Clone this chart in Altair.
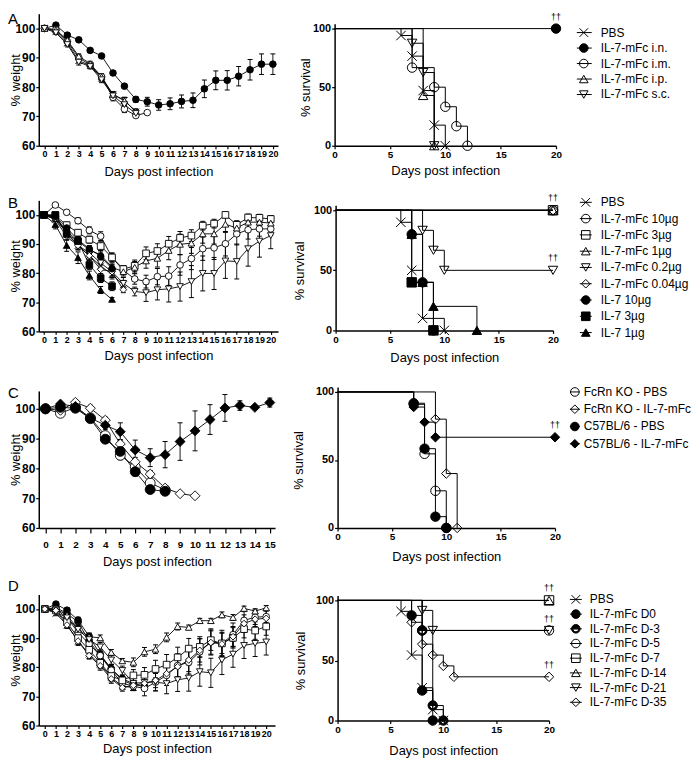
import altair as alt
import pandas as pd

FONT = "Liberation Sans"

# ======================= Panel A =======================
A_NAMES = ["PBS", "IL-7-mFc i.n.", "IL-7-mFc i.m.", "IL-7-mFc i.p.", "IL-7-mFc s.c."]
A_STYLES = ["x", "fcircle", "ocircle", "otriup", "otridown"]
A_WEIGHT = {
    "PBS": [100, 99.0, 95.0, 89.0, 87.3, 83.0, 77.5, 75.5, 71.5],
    "IL-7-mFc i.n.": [100, 101.1, 97.7, 96.1, 92.5, 90.6, 84.8, 80.3, 75.8, 75.0, 73.9,
                      74.3, 75.1, 75.5, 79.4, 82.3, 82.3, 83.7, 85.9, 87.8, 87.8],
    "IL-7-mFc i.m.": [100, 99.5, 95.5, 90.0, 87.5, 83.5, 76.5, 72.5, 70.3, 71.3],
    "IL-7-mFc i.p.": [100, 99.5, 96.0, 90.5, 88.0, 83.5, 77.5, 75.3, 71.8],
    "IL-7-mFc s.c.": [100, 98.5, 94.5, 88.5, 87.0, 82.5, 77.0, 74.0, 71.0],
}
A_SEM = {
    "PBS": [0, 0.5, 0.8, 0.8, 0.8, 1.0, 1.0, 1.0, 0.8],
    "IL-7-mFc i.n.": [0, 0.4, 0.5, 0.5, 0.5, 0.6, 0.6, 0.8, 1.0, 1.5, 1.8,
                      2.0, 2.2, 2.5, 3.0, 3.2, 3.3, 3.3, 3.5, 3.5, 3.5],
    "IL-7-mFc i.m.": [0, 0.5, 0.8, 1.0, 0.8, 1.0, 1.2, 1.2, 0.6, 0.5],
    "IL-7-mFc i.p.": [0, 0.5, 0.8, 0.8, 0.8, 1.0, 1.0, 1.2, 0.8],
    "IL-7-mFc s.c.": [0, 0.6, 0.8, 1.0, 0.8, 1.0, 1.0, 1.2, 0.8],
}
A_SURV_DAYS = {
    "PBS": [0, 6, 7, 8, 9, 10],
    "IL-7-mFc i.n.": [0, 20],
    "IL-7-mFc i.m.": [0, 7, 9, 10, 11, 12],
    "IL-7-mFc i.p.": [0, 8, 9],
    "IL-7-mFc s.c.": [0, 7, 8, 9],
}
A_SURV_PCT = {
    "PBS": [100, 94.1, 76.5, 47.1, 17.6, 0],
    "IL-7-mFc i.n.": [100, 100],
    "IL-7-mFc i.m.": [100, 66.7, 50, 33.3, 16.7, 0],
    "IL-7-mFc i.p.": [100, 42.9, 0],
    "IL-7-mFc s.c.": [100, 87.5, 62.5, 0],
}
A_DAG_DAYS = [20]
A_DAG_PCT = [100]

# ======================= Panel B =======================
B_NAMES = ["PBS", "IL-7-mFc 10µg", "IL-7-mFc 3µg", "IL-7-mFc 1µg", "IL-7-mFc 0.2µg",
           "IL-7-mFc 0.04µg", "IL-7 10µg", "IL-7 3µg", "IL-7 1µg"]
B_STYLES = ["x", "ocircle", "osquare", "otriup", "otridown", "odiamond",
            "fcircle", "fsquare", "ftriup"]
B_WEIGHT = {
    "PBS": [100, 98.5, 94.0, 89.5, 86.0, 82.5, 79.5, 76.0],
    "IL-7-mFc 10µg": [100, 103.4, 100.9, 98.0, 94.7, 92.7, 85.4, 81.0, 78.0, 77.1, 78.8,
                      79.0, 82.8, 85.0, 88.4, 88.7, 90.1, 93.5, 94.9, 95.2, 95.2],
    "IL-7-mFc 3µg": [100, 99.8, 96.5, 93.9, 91.5, 89.3, 85.4, 81.4, 82.5, 86.8, 87.6,
                     90.1, 92.1, 92.9, 96.3, 97.0, 100.0, 96.6, 99.1, 99.0, 98.6],
    "IL-7-mFc 1µg": [100, 99.0, 94.5, 91.0, 88.0, 86.3, 82.0, 80.5, 82.0, 84.2, 85.1,
                     87.8, 89.9, 90.3, 93.5, 93.5, 96.8, 95.5, 97.5, 97.5, 97.2],
    "IL-7-mFc 0.2µg": [100, 98.5, 92.5, 89.5, 87.0, 83.5, 80.5, 76.5, 73.7, 73.3, 74.3,
                       74.6, 75.4, 77.1, 79.9, 79.9, 84.2, 84.0, 88.4, 91.0, 92.9],
    "IL-7-mFc 0.04µg": [100, 99.5, 93.5, 89.5, 86.0, 81.3, 80.5, 74.3],
    "IL-7 10µg": [100, 99.5, 95.5, 91.5, 88.3, 85.8, 81.5],
    "IL-7 3µg": [100, 100.0, 93.5, 91.0, 82.8, 78.3, 75.5],
    "IL-7 1µg": [100, 96.7, 89.5, 85.3, 79.2, 74.2, 71.0],
}
B_SEM = {
    "PBS": [0, 0.8, 1.5, 1.5, 1.5, 1.5, 1.5, 1.5],
    "IL-7-mFc 10µg": [0, 0.5, 0.8, 1.0, 1.2, 1.5, 1.5, 1.5, 1.8, 2.2, 2.8,
                      3.2, 3.5, 3.8, 4.0, 4.0, 4.2, 3.8, 3.2, 2.5, 2.2],
    "IL-7-mFc 3µg": [0, 0.5, 1.0, 1.0, 1.2, 1.5, 1.5, 1.2, 2.0, 2.2, 2.5,
                     2.5, 2.2, 2.0, 1.5, 1.5, 1.0, 1.2, 1.2, 1.2, 1.2],
    "IL-7-mFc 1µg": [0, 0.5, 1.0, 1.2, 1.2, 1.5, 1.5, 1.5, 2.0, 2.5, 3.0,
                     3.2, 3.5, 3.5, 3.2, 3.5, 2.8, 2.5, 2.0, 2.0, 2.0],
    "IL-7-mFc 0.2µg": [0, 0.6, 1.2, 1.5, 1.5, 1.8, 2.0, 2.0, 1.5, 3.0, 3.5,
                       4.5, 5.0, 5.5, 6.0, 5.5, 6.0, 6.0, 6.0, 5.5, 4.5],
    "IL-7-mFc 0.04µg": [0, 0.5, 1.0, 1.2, 1.2, 1.5, 1.5, 1.0],
    "IL-7 10µg": [0, 0.5, 1.0, 1.2, 1.2, 1.5, 1.5],
    "IL-7 3µg": [0, 0.5, 1.2, 1.5, 1.5, 1.5, 1.5],
    "IL-7 1µg": [0, 1.5, 2.0, 2.0, 1.5, 1.2, 0.6],
}
B_SURV_DAYS = {
    "PBS": [0, 6, 7, 8, 10],
    "IL-7-mFc 10µg": [0, 20],
    "IL-7-mFc 3µg": [0, 20],
    "IL-7-mFc 1µg": [0, 20],
    "IL-7-mFc 0.2µg": [0, 8, 9, 10, 20],
    "IL-7-mFc 0.04µg": [0, 20],
    "IL-7 10µg": [0, 7, 8, 9],
    "IL-7 3µg": [0, 7, 9],
    "IL-7 1µg": [0, 7, 8, 9, 13],
}
B_SURV_PCT = {
    "PBS": [100, 90, 50, 10, 0],
    "IL-7-mFc 10µg": [100, 100],
    "IL-7-mFc 3µg": [100, 100],
    "IL-7-mFc 1µg": [100, 100],
    "IL-7-mFc 0.2µg": [100, 83.3, 66.7, 50, 50],
    "IL-7-mFc 0.04µg": [100, 100],
    "IL-7 10µg": [100, 80, 40, 0],
    "IL-7 3µg": [100, 40, 0],
    "IL-7 1µg": [100, 80, 40, 20, 0],
}
B_DAG_DAYS = [20, 20]
B_DAG_PCT = [100, 50]

# ======================= Panel C =======================
C_NAMES = ["FcRn KO - PBS", "FcRn KO - IL-7-mFc", "C57BL/6 - PBS", "C57BL/6 - IL-7-mFc"]
C_STYLES = ["ocircle", "odiamond", "fcircle", "fdiamond"]
C_WEIGHT = {
    "FcRn KO - PBS": [100, 98.5, 100.5, 97.0, 91.0, 84.4, 80.5, 75.1, 72.8],
    "FcRn KO - IL-7-mFc": [100, 99.5, 102.2, 100.2, 96.2, 88.2, 82.2, 78.1, 73.4, 71.5, 70.8],
    "C57BL/6 - PBS": [100, 100.5, 100.2, 96.7, 89.8, 85.7, 78.9, 72.9, 72.3],
    "C57BL/6 - IL-7-mFc": [100, 101.6, 100.8, 96.9, 94.5, 92.3, 86.2, 83.6, 84.6, 89.0,
                           92.6, 96.4, 100.3, 101.1, 100.5, 102.1],
}
C_SEM = {
    "FcRn KO - PBS": [0, 0.8, 0.8, 1.0, 1.2, 1.5, 1.5, 1.2, 0.8],
    "FcRn KO - IL-7-mFc": [0, 0.5, 0.8, 1.0, 1.0, 1.5, 1.5, 1.2, 0.8, 0.5, 0.5],
    "C57BL/6 - PBS": [0, 0.6, 0.8, 1.2, 1.2, 1.5, 1.5, 1.0, 0.8],
    "C57BL/6 - IL-7-mFc": [0, 0.6, 0.8, 1.5, 1.5, 3.0, 3.3, 3.0, 4.4, 6.3,
                           6.7, 5.0, 4.5, 1.6, 0.5, 1.5],
}
C_SURV_DAYS = {
    "FcRn KO - PBS": [0, 7, 8, 9, 10],
    "FcRn KO - IL-7-mFc": [0, 9, 10, 11],
    "C57BL/6 - PBS": [0, 7, 8, 9, 10],
    "C57BL/6 - IL-7-mFc": [0, 7, 8, 9, 20],
}
C_SURV_PCT = {
    "FcRn KO - PBS": [100, 90.9, 54.5, 27.3, 0],
    "FcRn KO - IL-7-mFc": [100, 80, 40, 0],
    "C57BL/6 - PBS": [100, 91.7, 58.3, 8.3, 0],
    "C57BL/6 - IL-7-mFc": [100, 88.9, 77.8, 66.7, 66.7],
}
C_DAG_DAYS = [20]
C_DAG_PCT = [66.7]

# ======================= Panel D =======================
D_NAMES = ["PBS", "IL-7-mFc D0", "IL-7-mFc D-3", "IL-7-mFc D-5", "IL-7-mFc D-7",
           "IL-7-mFc D-14", "IL-7-mFc D-21", "IL-7-mFc D-35"]
D_STYLES = ["x", "fcircle", "half", "ocircle", "osquare", "otriup", "otridown", "odiamond"]
D_WEIGHT = {
    "PBS": [100, 98.5, 94.5, 89.0, 84.5, 81.0, 76.5, 73.5, 73.0],
    "IL-7-mFc D0": [100, 101.7, 99.6, 96.2, 90.6, 84.5, 79.4, 76.0, 74.4],
    "IL-7-mFc D-3": [100, 100.5, 98.5, 95.5, 89.0, 84.0, 79.5, 75.5, 74.0, 73.5],
    "IL-7-mFc D-5": [100, 100.0, 97.0, 92.0, 88.0, 84.0, 79.0, 74.5, 73.5, 72.7, 74.9,
                     77.2, 80.6, 81.7, 85.3, 88.7, 88.2, 91.2, 96.1, 97.2, 97.4],
    "IL-7-mFc D-7": [100, 99.5, 95.5, 90.0, 86.0, 81.5, 77.0, 75.5, 77.2, 77.4, 79.4,
                     80.9, 83.4, 86.4, 87.0, 89.3, 88.2, 90.1, 93.1, 92.6, 94.0],
    "IL-7-mFc D-14": [100, 100.0, 98.0, 93.0, 90.5, 90.1, 85.1, 82.2, 81.7, 85.3, 86.2,
                      90.3, 94.0, 93.7, 96.0, 96.0, 98.0, 97.1, 100.2, 99.3, 100.4],
    "IL-7-mFc D-21": [100, 99.0, 97.0, 93.0, 89.5, 87.0, 82.5, 78.9, 74.5, 74.8, 74.9,
                      74.4, 75.7, 76.3, 78.5, 78.1, 82.5, 84.5, 87.5, 88.2, 88.7],
    "IL-7-mFc D-35": [100, 99.5, 94.5, 89.0, 84.0, 80.5, 76.0, 73.0, 73.8, 74.5, 75.5,
                      77.8, 80.2, 82.5, 85.8, 88.5, 88.0, 90.5, 95.0, 96.5, 96.8],
}
D_SEM = {
    "PBS": [0, 0.8, 1.2, 1.5, 1.5, 1.5, 1.5, 1.2, 1.0],
    "IL-7-mFc D0": [0, 0.6, 0.8, 1.0, 1.2, 1.5, 1.5, 1.2, 1.0],
    "IL-7-mFc D-3": [0, 0.6, 0.8, 1.2, 1.2, 1.5, 1.5, 1.2, 1.0, 1.0],
    "IL-7-mFc D-5": [0, 0.6, 0.8, 1.2, 1.2, 1.5, 1.5, 1.2, 1.5, 2.5, 3.0,
                     3.5, 4.0, 4.0, 4.5, 4.5, 4.5, 4.0, 3.0, 2.5, 2.0],
    "IL-7-mFc D-7": [0, 0.6, 1.0, 1.2, 1.2, 1.5, 1.5, 1.2, 2.0, 2.5, 3.0,
                     3.5, 3.5, 3.5, 3.5, 3.5, 3.5, 3.5, 3.0, 3.0, 3.0],
    "IL-7-mFc D-14": [0, 0.5, 0.8, 1.0, 1.0, 1.0, 1.0, 0.8, 1.5, 1.5, 1.5,
                      1.5, 1.2, 0.8, 0.8, 0.8, 1.0, 1.0, 0.8, 0.8, 0.8],
    "IL-7-mFc D-21": [0, 0.6, 1.0, 1.2, 1.2, 1.5, 1.5, 1.5, 2.0, 2.5, 3.0,
                      3.5, 4.0, 4.5, 5.0, 5.0, 5.0, 4.5, 4.5, 4.5, 4.5],
    "IL-7-mFc D-35": [0, 0.6, 1.0, 1.2, 1.2, 1.5, 1.5, 1.2, 1.5, 2.0, 2.5,
                      3.0, 3.5, 4.0, 4.0, 4.0, 4.0, 3.5, 3.0, 2.5, 2.5],
}
D_SURV_DAYS = {
    "PBS": [0, 6, 7, 8, 9, 10],
    "IL-7-mFc D0": [0, 7, 8, 9],
    "IL-7-mFc D-3": [0, 8, 9, 10],
    "IL-7-mFc D-5": [0, 8, 20],
    "IL-7-mFc D-7": [0, 20],
    "IL-7-mFc D-14": [0, 20],
    "IL-7-mFc D-21": [0, 8, 9, 20],
    "IL-7-mFc D-35": [0, 7, 8, 9, 10, 11, 20],
}
D_SURV_PCT = {
    "PBS": [100, 90.9, 54.5, 27.3, 9.1, 0],
    "IL-7-mFc D0": [100, 87.5, 25, 0],
    "IL-7-mFc D-3": [100, 75, 12.5, 0],
    "IL-7-mFc D-5": [100, 75, 75],
    "IL-7-mFc D-7": [100, 100],
    "IL-7-mFc D-14": [100, 100],
    "IL-7-mFc D-21": [100, 91.7, 75, 75],
    "IL-7-mFc D-35": [100, 81.8, 63.6, 54.5, 45.5, 36.4, 36.4],
}
D_DAG_DAYS = [20, 20, 20]
D_DAG_PCT = [100, 75, 36.4]

# ======================= styles =======================
HALF = "M-1,0A1,1,0,1,1,1,0A1,1,0,1,1,-1,0ZM-0.7,0A0.7,0.7,0,0,0,0.7,0Z"
SHAPES = {
    "x": "M-1,-1L1,1M-1,1L1,-1",
    "fcircle": "circle", "ocircle": "circle", "half": HALF,
    "osquare": "square", "fsquare": "square",
    "otriup": "triangle-up", "ftriup": "triangle-up",
    "otridown": "triangle-down",
    "odiamond": "diamond", "fdiamond": "diamond",
}
SOLID = {"fcircle", "fsquare", "ftriup", "fdiamond", "half"}


def shape_enc(names, styles):
    return alt.Shape("series:N", legend=None,
                     scale=alt.Scale(domain=names, range=[SHAPES[s] for s in styles]))


def fill_enc(names, styles, open_fill):
    return alt.Fill("series:N", legend=None,
                    scale=alt.Scale(domain=names,
                                    range=["black" if s in SOLID else open_fill for s in styles]))


def spacer(top):
    return alt.Chart(pd.DataFrame({"s": [0]})).mark_rule(
        color="white", opacity=0, strokeWidth=1
    ).encode(x=alt.value(0), y=alt.value(-top), y2=alt.value(0))


def weight_panel(names, styles, means, sems, xdom, ytop, xvals, w, h, letter, letter_y,
                 top, xlab, xtick, xpad, xtitle_y, msize):
    rows = []
    for n in names:
        for d, (m, e) in enumerate(zip(means[n], sems[n])):
            rows.append(dict(series=n, day=d, w=m, lo=m - e, hi=m + e, e=e))
    df = pd.DataFrame(rows)
    xsc = alt.Scale(domain=xdom, nice=False, zero=False)
    ysc = alt.Scale(domain=[60, ytop], nice=False, zero=False)
    xax = alt.Axis(values=xvals, title="Days post infection", labelFontSize=xlab,
                   tickSize=xtick, labelPadding=xpad, titleX=w / 2, titleY=xtitle_y,
                   titleFontSize=13)
    yax = alt.Axis(values=[60, 70, 80, 90, 100], title="% weight", labelFontSize=12,
                   tickSize=3, labelPadding=1, titleX=-16, titleY=h / 2, titleFontSize=13)

    def X(f):
        return alt.X(f, scale=xsc, axis=xax)

    def Y(f):
        return alt.Y(f, scale=ysc, axis=yax)

    base = alt.Chart(df)
    err = base.transform_filter("datum.e > 0")
    lines = base.mark_line(color="black", strokeWidth=0.9).encode(
        x=X("day:Q"), y=Y("w:Q"), detail="series:N")
    bars = err.mark_rule(color="black", strokeWidth=0.9).encode(
        x=X("day:Q"), y=Y("lo:Q"), y2="hi:Q")
    cap_lo = err.mark_tick(orient="horizontal", color="black", size=5, thickness=1,
                           opacity=1).encode(x=X("day:Q"), y=Y("lo:Q"))
    cap_hi = err.mark_tick(orient="horizontal", color="black", size=5, thickness=1,
                           opacity=1).encode(x=X("day:Q"), y=Y("hi:Q"))
    pts = base.mark_point(filled=True, size=msize, stroke="black", strokeWidth=0.9,
                          opacity=1).encode(
        x=X("day:Q"), y=Y("w:Q"), shape=shape_enc(names, styles),
        fill=fill_enc(names, styles, "white"))
    lab = alt.Chart(pd.DataFrame({"t": [letter]})).mark_text(
        align="left", baseline="top", fontSize=15, color="black", fill="black"
    ).encode(text="t:N", x=alt.value(-31), y=alt.value(letter_y))
    return alt.layer(lines, bars, cap_lo, cap_hi, pts, lab, spacer(top)).properties(
        width=w, height=h)


def surv_panel(names, styles, days, pcts, dag_days, dag_pcts, w, span, stub,
               ytitle_x, xtitle_y, msize):
    # stub: pixels from the plot top to the 100 % line; the axis line ends 5 px above it
    h = span + stub
    ymax = 100 + 5 * 100 / span
    rows = []
    for n in names:
        for d, p in zip(days[n], pcts[n]):
            rows.append(dict(series=n, day=d, pct=p))
    df = pd.DataFrame(rows)
    ddf = pd.DataFrame({"day": dag_days, "pct": dag_pcts})
    xsc = alt.Scale(domain=[0, 20], nice=False, zero=False)
    ysc = alt.Scale(domain=[0, ymax], nice=False, range=[h, stub - 5])
    xax = alt.Axis(values=[0, 5, 10, 15, 20], title="Days post infection", labelFontSize=10,
                   tickSize=3, labelPadding=1, titleX=w / 2, titleY=xtitle_y,
                   titleFontSize=13)
    yax = alt.Axis(values=[0, 50, 100], title="% survival", labelFontSize=11, tickSize=3,
                   labelPadding=1, titleX=ytitle_x, titleY=stub + span / 2,
                   titleFontSize=13)

    def X(f):
        return alt.X(f, scale=xsc, axis=xax)

    def Y(f):
        return alt.Y(f, scale=ysc, axis=yax)

    base = alt.Chart(df)
    line = base.mark_line(interpolate="step-after", color="black", strokeWidth=1).encode(
        x=X("day:Q"), y=Y("pct:Q"), detail="series:N")
    pts = base.transform_filter("datum.day > 0").mark_point(
        filled=True, size=msize, stroke="black", strokeWidth=1, opacity=1
    ).encode(x=X("day:Q"), y=Y("pct:Q"), shape=shape_enc(names, styles),
             fill=fill_enc(names, styles, "transparent"))
    dag = alt.Chart(ddf).mark_text(text="††", baseline="bottom", dy=-7, fontSize=9,
                                   color="black", fill="black").encode(
        x=X("day:Q"), y=Y("pct:Q"))
    return alt.layer(line, pts, dag).properties(width=w, height=h)


def legend_panel(names, styles, first, step, line_len, mark_x, text_x, msize=75, fs=12):
    n = len(names)
    df = pd.DataFrame({"series": names})
    Y = alt.Y("series:N", axis=None,
              scale=alt.Scale(type="point", domain=names, padding=0,
                              range=[first, first + step * (n - 1)]))
    base = alt.Chart(df)
    pts = base.mark_point(filled=True, size=msize, stroke="black", strokeWidth=1,
                          opacity=1).encode(
        x=alt.value(mark_x), y=Y, shape=shape_enc(names, styles),
        fill=fill_enc(names, styles, "transparent"))
    rule = base.mark_rule(color="black", strokeWidth=1).encode(
        x=alt.value(0), x2=alt.value(line_len), y=Y)
    txt = base.mark_text(align="left", baseline="middle", fontSize=fs, color="black",
                         fill="black").encode(x=alt.value(text_x), y=Y, text="series:N")
    return alt.layer(pts, rule, txt).properties(
        width=20, height=max(first + step * (n - 1) + 10, 20))


def indep(c):
    return c.resolve_scale(shape="independent", fill="independent")


DAYS20 = list(range(21))
DAYS15 = list(range(16))

# ---- row A ----
wA = weight_panel(A_NAMES, A_STYLES, A_WEIGHT, A_SEM, [-0.5, 20.45], 105, DAYS20, 241, 133,
                  "A", -2, 3, 9, 3, 1, 19.5, 45)
sA = surv_panel(A_NAMES, A_STYLES, A_SURV_DAYS, A_SURV_PCT, A_DAG_DAYS, A_DAG_PCT,
                223, 118, 15, -22, 18.5, 90)
lA = legend_panel(A_NAMES, A_STYLES, 19, 15.6, 15, 7, 24)
rowA = indep(alt.hconcat(wA, indep(alt.hconcat(sA, lA, spacing=13)), spacing=22))

# ---- row B ----
wB = weight_panel(B_NAMES, B_STYLES, B_WEIGHT, B_SEM, [-0.46, 20.64], 105, DAYS20, 241, 132,
                  "B", -4, 6, 9, 3, 1, 18.5, 45)
sB = surv_panel(B_NAMES, B_STYLES, B_SURV_DAYS, B_SURV_PCT, B_DAG_DAYS, B_DAG_PCT,
                219, 121, 10, -29, 21.5, 90)
lB = legend_panel(B_NAMES, B_STYLES, 2, 16.4, 12, 6, 21)
rowB = indep(alt.hconcat(wB, indep(alt.hconcat(sB, lB, spacing=19)), spacing=15))

# ---- row C ----
wC = weight_panel(C_NAMES, C_STYLES, C_WEIGHT, C_SEM, [-0.45, 15.35], 106, DAYS15, 238, 138,
                  "C", -5, 5, 10, 5, 7, 27.5, 100)
sC = surv_panel(C_NAMES, C_STYLES, C_SURV_DAYS, C_SURV_PCT, C_DAG_DAYS, C_DAG_PCT,
                219, 137, 1, -32, 22.5, 90)
lC = legend_panel(C_NAMES, C_STYLES, 1, 17.4, 10, 5, 14)
rowC = indep(alt.hconcat(wC, indep(alt.hconcat(sC, lC, spacing=6)), spacing=15))

# ---- row D ----
wD = weight_panel(D_NAMES, D_STYLES, D_WEIGHT, D_SEM, [-0.55, 20.8], 105, DAYS20, 238, 132,
                  "D", -15, 15, 9, 3, 1, 17.5, 45)
sD = surv_panel(D_NAMES, D_STYLES, D_SURV_DAYS, D_SURV_PCT, D_DAG_DAYS, D_DAG_PCT,
                213, 121, 6, -30, 24.5, 90)
lD = legend_panel(D_NAMES, D_STYLES, 5, 14.8, 12, 6, 20)
rowD = indep(alt.hconcat(wD, indep(alt.hconcat(sD, lD, spacing=13)), spacing=19))

top = indep(alt.vconcat(
    indep(alt.vconcat(indep(alt.vconcat(rowA, rowB, spacing=15)), rowC, spacing=20)),
    rowD, spacing=11))

chart = top.properties(padding=0).configure_view(stroke=None).configure_axis(
    labelFont=FONT, titleFont=FONT, labelFontWeight="bold", titleFontWeight="normal",
    labelColor="black", titleColor="black", domainColor="black", tickColor="black",
    domainWidth=1.5, tickWidth=1.2, grid=False, labelOverlap=False, labelFlush=False
).configure_text(font=FONT)

chart.save("out.html", embed_options={"renderer": "svg", "actions": False})
